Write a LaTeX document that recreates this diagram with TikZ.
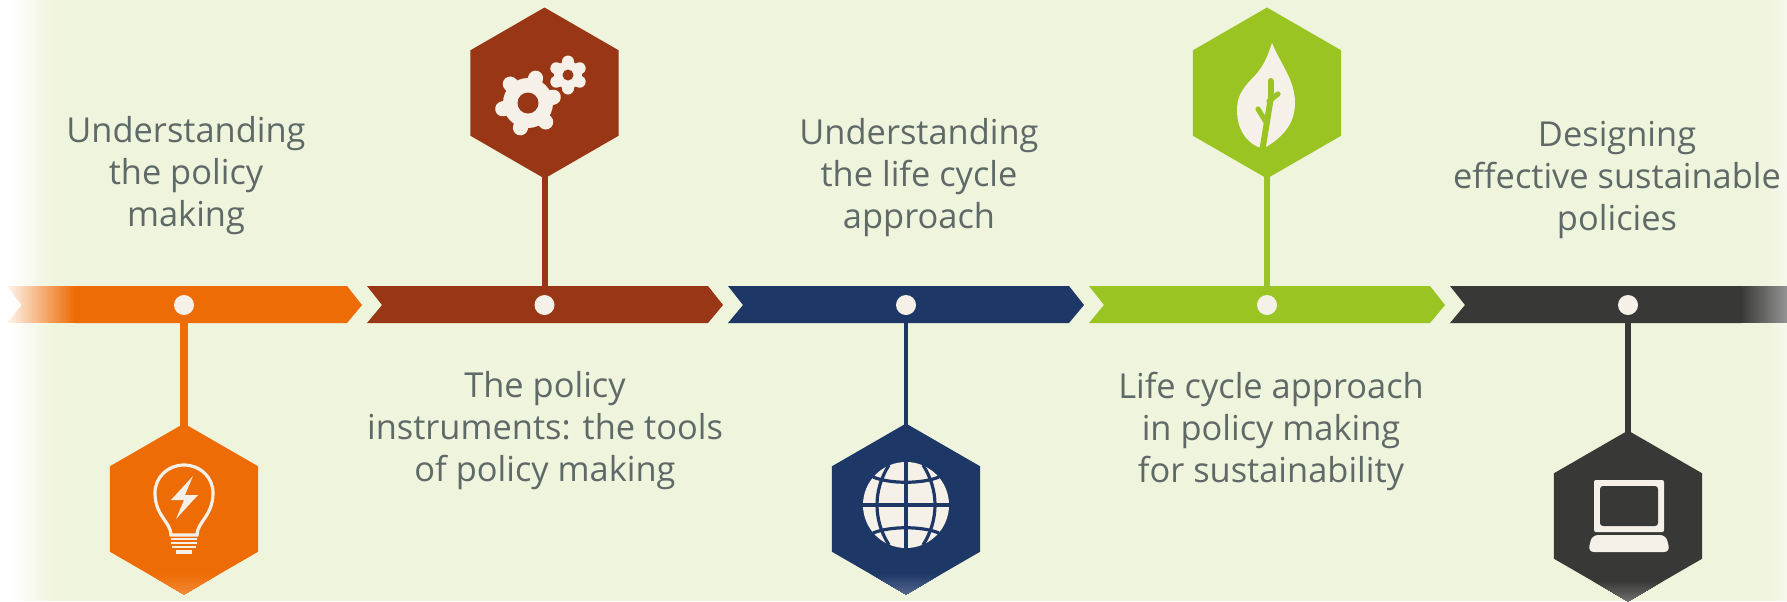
\documentclass[tikz,border=0pt]{standalone}
\usepackage{fontspec}
\setmainfont{Open Sans}
\usetikzlibrary{shapes.geometric}
\definecolor{bgc}{HTML}{EFF4DC}
\definecolor{bglight}{HTML}{F6F8EC}
\definecolor{orangec}{HTML}{EE6C05}
\definecolor{brownc}{HTML}{993615}
\definecolor{navyc}{HTML}{1D3767}
\definecolor{greenc}{HTML}{9AC421}
\definecolor{darkc}{HTML}{383837}
\definecolor{txtc}{HTML}{5F6A68}
\definecolor{iconc}{HTML}{F5F1E8}
\tikzset{
  hexnode/.style={regular polygon,regular polygon sides=6,shape border rotate=30,minimum size=85.5pt,inner sep=0pt,outer sep=0pt,fill=#1},
  dotnode/.style={circle,fill=iconc,minimum size=10pt,inner sep=0pt,outer sep=0pt},
  conn/.style={line width=#1,line cap=butt,shorten >=-1pt},
  lbltext/.style={text=txtc,font=\fontsize{17.2pt}{21pt}\selectfont,align=center,inner sep=0pt},
  icon/.style={fill=iconc,draw=none},
  iconline/.style={draw=iconc,line width=1.6pt,fill=none}
}
% horizontal ramp: x0,x1,y0,y1,colour A,colour B (stacked strips, no seams)
\newcommand{\hramp}[6]{%
  \foreach \s in {0,...,29} {
    \pgfmathsetmacro{\xs}{#1+(#2-#1)*\s/30}
    \pgfmathsetmacro{\mixp}{100*\s/29}
    \fill[color=#6!\mixp!#5] (\xs,#3) rectangle (#2,#4);
  }}
% vertical ramp: y0,y1,x0,x1,colour A,colour B
\newcommand{\vramp}[6]{%
  \foreach \s in {0,...,19} {
    \pgfmathsetmacro{\ys}{#1+(#2-#1)*\s/20}
    \pgfmathsetmacro{\mixp}{100*\s/19}
    \fill[color=#6!\mixp!#5] (#3,\ys) rectangle (#4,#2);
  }}
\newcommand{\gearicon}[9]{%
  \begin{scope}[shift={(#1,#2)}]
    \fill[iconc] (0,0) circle (#3);
    \foreach \k in {1,...,#6} {
      \pgfmathsetmacro{\ang}{#7+360*\k/#6}
      \draw[draw=iconc,line width=#5,line cap=round] (0,0) -- (\ang:#4);
    }
    \fill[#9] (0,0) circle (#8);
  \end{scope}}
\begin{document}
\begin{tikzpicture}[x=0.5pt,y=-0.5pt]
\useasboundingbox (0,0) rectangle (1787,601);
% background
\fill[bgc] (0,0) rectangle (1787,601);
\fill[white] (0,0) rectangle (8,601);
\hramp{8}{58}{0}{601}{white}{bgc}
\hramp{1765}{1787}{0}{601}{bgc}{bglight}
% bars
\begin{scope}
  \clip (7,286) -- (76,286) -- (76,323) -- (7,323) -- (22,305) -- cycle;
  \hramp{7}{76}{286}{323}{white!92!orangec}{orangec}
\end{scope}
\fill[orangec] (75,286) -- (347,286) -- (362,305) -- (347,323) -- (75,323) -- cycle;
\fill[brownc] (367,286) -- (708,286) -- (723,305) -- (708,323) -- (367,323) -- (382,305) -- cycle;
\fill[navyc] (728,286) -- (1069,286) -- (1084,305) -- (1069,323) -- (728,323) -- (743,305) -- cycle;
\fill[greenc] (1089,286) -- (1430,286) -- (1445,305) -- (1430,323) -- (1089,323) -- (1104,305) -- cycle;
\fill[darkc] (1450,286) -- (1741,286) -- (1741,323) -- (1450,323) -- (1465,305) -- cycle;
\hramp{1740}{1787}{286}{323}{darkc}{darkc!55!white}
% hexagons
\node[hexnode=orangec] (hex1) at (184,509) {};
\node[hexnode=brownc] (hex2) at (544.5,93) {};
\node[hexnode=navyc] (hex3) at (906,509) {};
\node[hexnode=greenc] (hex4) at (1267,93) {};
\node[hexnode=darkc] (hex5) at (1628,516) {};
% dots
\node[dotnode] (dot1) at (184,305) {};
\node[dotnode] (dot2) at (544.5,305) {};
\node[dotnode] (dot3) at (906,305) {};
\node[dotnode] (dot4) at (1267,305) {};
\node[dotnode] (dot5) at (1628,305) {};
% connectors
\draw[conn=4pt,orangec] (dot1) -- (hex1);
\draw[conn=3pt,brownc] (dot2) -- (hex2);
\draw[conn=2pt,navyc] (dot3) -- (hex3);
\draw[conn=3pt,greenc] (dot4) -- (hex4);
\draw[conn=3pt,darkc] (dot5) -- (hex5);
% bottom glints of the hexagons
\begin{scope}
  \clip (149,574) -- (219,574) -- (184,594.5) -- cycle;
  \vramp{574}{595}{149}{219}{orangec}{orangec!80!white}
\end{scope}
\begin{scope}
  \clip (871,574) -- (941,574) -- (906,594.5) -- cycle;
  \vramp{574}{595}{871}{941}{navyc}{navyc!75!white}
\end{scope}
\begin{scope}
  \clip (1593,581) -- (1663,581) -- (1628,601.5) -- cycle;
  \vramp{581}{602}{1593}{1663}{darkc}{darkc!72!white}
\end{scope}
% labels
\node[lbltext] (t1) at (186,176) {Understanding\\the policy\\making};
\node[lbltext] (t2) at (545,431) {The policy\\instruments: the tools\\of policy making};
\node[lbltext] (t3) at (919,178) {Understanding\\the life cycle\\approach};
\node[lbltext] (t4) at (1271,431) {Life cycle approach\\in policy making\\for sustainability};
\node[lbltext] (t5) at (1617,180) {Designing\\effective sustainable\\policies};
% bulb icon
\draw[iconline] (171,535) .. controls (171,522) and (155,516) .. (155,493)
  .. controls (155,477) and (168,465) .. (184,465)
  .. controls (200,465) and (213,477) .. (213,493)
  .. controls (213,516) and (197,522) .. (197,535) -- cycle;
\fill[icon] (193,476) -- (171,500) -- (184,500) -- (176,519) -- (198,495) -- (185,495) -- cycle;
\fill[icon] (171,538) rectangle (197,540);
\fill[icon] (171,542) rectangle (197,544);
\fill[icon] (172,546) rectangle (196,548);
\fill[icon] (176,550) rectangle (192,554);
% gears
\gearicon{528}{103}{25}{26}{7.5pt}{6}{-13}{10.5}{brownc}
\gearicon{568}{75}{14}{13.5}{6pt}{6}{-90}{5.5}{brownc}
% globe
\fill[icon] (906,505) circle (43);
\draw[navyc,line width=1.6pt] (906,460) -- (906,550);
\draw[navyc,line width=1.6pt] (862,505) -- (950,505);
\draw[navyc,line width=1.6pt] (889,465) .. controls (873,490) and (873,520) .. (889,545);
\draw[navyc,line width=1.6pt] (923,465) .. controls (939,490) and (939,520) .. (923,545);
\draw[navyc,line width=1.6pt] (873,477) .. controls (890,484) and (922,484) .. (939,477);
\draw[navyc,line width=1.6pt] (873,533) .. controls (890,526) and (922,526) .. (939,533);
% leaf
\fill[icon] (1272,43) .. controls (1281,65) and (1295,80) .. (1295,103)
  .. controls (1295,125) and (1281,138) .. (1266,147) -- (1258,147)
  .. controls (1245,141) and (1237,128) .. (1237,110)
  .. controls (1237,90) and (1250,82) .. (1258,72)
  .. controls (1265,63) and (1268,55) .. (1272,43) -- cycle;
\draw[greenc,line width=3pt,line cap=butt] (1262.5,149) -- (1270.5,100);
\draw[greenc,line width=3pt,line cap=round] (1270.5,100) -- (1270.5,81);
\draw[greenc,line width=2.6pt,line cap=round] (1269,101) -- (1278,94);
\draw[greenc,line width=2.6pt,line cap=round] (1266,122) -- (1258,109);
% laptop
\fill[icon,rounded corners=1pt] (1594,480) rectangle (1664,532);
\fill[darkc,rounded corners=1.5pt] (1600,486) rectangle (1658,526);
\fill[icon,rounded corners=3pt] (1592,535) -- (1666,535) -- (1670,552) -- (1588,552) -- cycle;
\end{tikzpicture}
\end{document}
